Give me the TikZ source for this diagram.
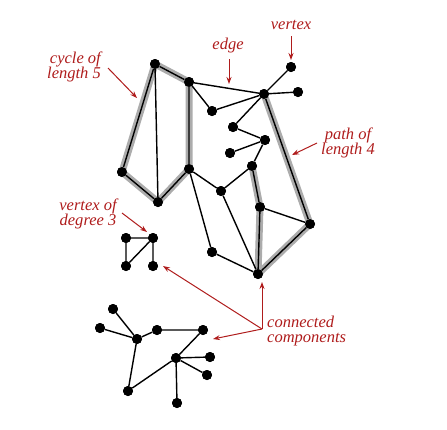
\documentclass[tikz,border=0pt]{standalone}
\usepackage{fontspec}
\setmainfont{Liberation Serif}
\usetikzlibrary{arrows.meta}
\definecolor{lblred}{RGB}{175,28,28}
\begin{document}
\begin{tikzpicture}[x=1pt,y=-1pt,
 dot/.style={circle,fill=black,inner sep=0pt,minimum size=10pt},
 lnk/.style={line width=1.4pt,black},
 hl/.style={line width=7pt,gray!65,line cap=round,line join=round},
 lbl/.style={text=lblred,font=\fontsize{16.5}{15.5}\selectfont\itshape,inner sep=0pt},
 arr/.style={draw=lblred,line width=1pt,-{Stealth[length=7pt,width=5pt]}}]
\useasboundingbox (0,0) rectangle (447,429);
% main component
\node[dot] (A) at (155,64) {};
\node[dot] (B) at (189,82) {};
\node[dot] (C) at (264,94) {};
\node[dot] (V) at (291,67) {};
\node[dot] (D) at (298,92) {};
\node[dot] (E) at (212,111) {};
\node[dot] (F) at (233,127) {};
\node[dot] (G) at (265,140) {};
\node[dot] (H) at (230,153) {};
\node[dot] (I) at (252,166) {};
\node[dot] (J) at (122,172) {};
\node[dot] (K) at (158,202) {};
\node[dot] (L) at (189,169) {};
\node[dot] (M) at (221,191) {};
\node[dot] (N) at (260,207) {};
\node[dot] (O) at (310,224) {};
\node[dot] (P) at (212,252) {};
\node[dot] (Q) at (258,274) {};
% small component
\node[dot] (a) at (126,238) {};
\node[dot] (b) at (153,238) {};
\node[dot] (c) at (126,266) {};
\node[dot] (d) at (153,266) {};
% bottom component
\node[dot] (p1) at (113,309) {};
\node[dot] (p2) at (100,328) {};
\node[dot] (p3) at (137,339) {};
\node[dot] (p4) at (157,330) {};
\node[dot] (p5) at (203,330) {};
\node[dot] (p6) at (176,358) {};
\node[dot] (p7) at (210,357) {};
\node[dot] (p8) at (207,375) {};
\node[dot] (p9) at (128,391) {};
\node[dot] (p10) at (177,403) {};
% highlights
\draw[hl] (A.center) -- (B.center) -- (L.center) -- (K.center) -- (J.center) -- cycle;
\draw[hl] (C.center) -- (O.center) -- (Q.center) -- (N.center) -- (I.center);
% edges
\draw[lnk] (A) -- (B) (A) -- (J) (A) -- (K) (B) -- (L) (J) -- (K) (K) -- (L);
\draw[lnk] (B) -- (C) (B) -- (E) (E) -- (C) (C) -- (V) (C) -- (D) (C) -- (F)
  (F) -- (G) (G) -- (H) (G) -- (I) (I) -- (N) (N) -- (Q) (C) -- (O) (O) -- (Q)
  (N) -- (O) (L) -- (M) (M) -- (I) (L) -- (P) (P) -- (Q) (M) -- (Q);
\draw[lnk] (a) -- (b) (a) -- (c) (b) -- (c) (b) -- (d);
\draw[lnk] (p1) -- (p3) (p2) -- (p3) (p3) -- (p4) (p4) -- (p5) (p5) -- (p6)
  (p6) -- (p7) (p6) -- (p8) (p6) -- (p10) (p6) -- (p9) (p9) -- (p3);
% redraw dots on top
\foreach \n in {A,B,C,V,D,E,F,G,H,I,J,K,L,M,N,O,P,Q,a,b,c,d,p1,p2,p3,p4,p5,p6,p7,p8,p9,p10}
  \fill (\n) circle (5pt);
% labels
\node[lbl,align=right] (tcyc) at (74,67) {cycle of\\length 5};
\node[lbl] (tedge) at (228,46) {edge};
\node[lbl] (tvert) at (291,25) {vertex};
\node[lbl,align=center] (tpath) at (348,143) {path of\\length 4};
\node[lbl,align=center] (tdeg) at (88,214) {vertex of\\degree 3};
\node[lbl,align=left,anchor=west] (tcon) at (267,331) {connected\\components};
% arrow endpoints
\coordinate (cyc0) at (108,68);
\coordinate (cyc1) at (137,98);
\coordinate (edg0) at (229,59);
\coordinate (edg1) at (229,84);
\coordinate (ver0) at (291,36);
\coordinate (ver1) at (291,60);
\coordinate (pat0) at (317,143);
\coordinate (pat1) at (292,155);
\coordinate (deg0) at (122,213);
\coordinate (deg1) at (147,232);
\coordinate (jun) at (262,329);
\coordinate (con1) at (262,282);
\coordinate (con2) at (163,266);
\coordinate (con3) at (213,339);
\draw[arr] (cyc0) -- (cyc1);
\draw[arr] (edg0) -- (edg1);
\draw[arr] (ver0) -- (ver1);
\draw[arr] (pat0) -- (pat1);
\draw[arr] (deg0) -- (deg1);
\draw[arr] (jun) -- (con1);
\draw[arr] (jun) -- (con2);
\draw[arr] (jun) -- (con3);
\end{tikzpicture}
\end{document}
